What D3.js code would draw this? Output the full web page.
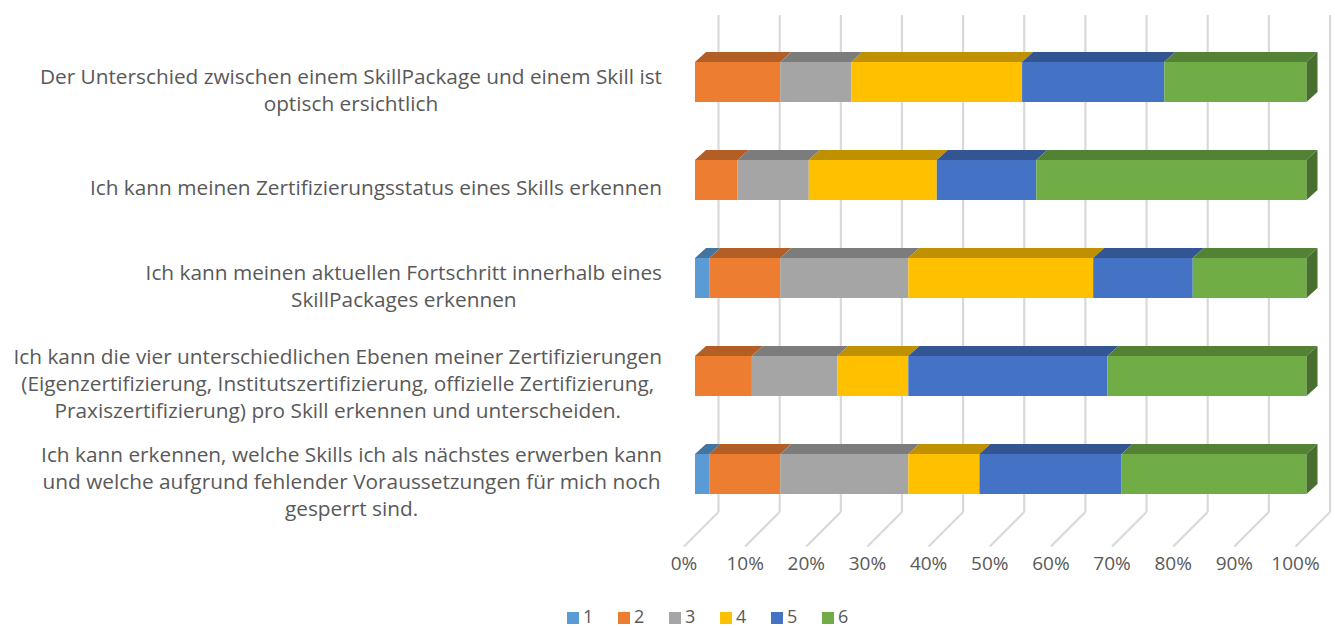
<!DOCTYPE html>
<html><head><meta charset="utf-8">
<script src="https://cdn.jsdelivr.net/npm/d3@7"></script>
<style>html,body{margin:0;padding:0;background:#fff;} svg{display:block;font-family:"Open Sans",sans-serif;}</style>
</head><body>
<svg id="chart" width="1335" height="628"></svg>
<script>
// ---- data ----
const categories = [
  ["Der Unterschied zwischen einem SkillPackage und einem Skill ist", "optisch ersichtlich"],
  ["Ich kann meinen Zertifizierungsstatus eines Skills erkennen"],
  ["Ich kann meinen aktuellen Fortschritt innerhalb eines", "SkillPackages erkennen"],
  ["Ich kann die vier unterschiedlichen Ebenen meiner Zertifizierungen", "(Eigenzertifizierung, Institutszertifizierung, offizielle Zertifizierung,", "Praxiszertifizierung) pro Skill erkennen und unterscheiden."],
  ["Ich kann erkennen, welche Skills ich als nächstes erwerben kann", "und welche aufgrund fehlender Voraussetzungen für mich noch", "gesperrt sind."]
];
const seriesNames = ["1", "2", "3", "4", "5", "6"];
const s1 = [0, 0, 1, 0, 1];
const s2 = [6, 3, 5, 4, 5];
const s3 = [5, 5, 9, 6, 9];
const s4 = [12, 9, 13, 5, 5];
const s5 = [10, 7, 7, 14, 10];
const s6 = [10, 19, 8, 14, 13];
const seriesValues = [s1, s2, s3, s4, s5, s6];
const tickValues = [0, 0.1, 0.2, 0.3, 0.4, 0.5, 0.6, 0.7, 0.8, 0.9, 1.0];
const colors = ["#5b9bd5", "#ed7d31", "#a5a5a5", "#ffc000", "#4472c4", "#70ad47"];

// ---- layout ----
const svg = d3.select("#chart");
const catIdx = categories.map((c, i) => i);
const x = d3.scaleLinear().domain([0, 1]).range([695, 1306.5]);
const y = d3.scaleBand().domain(catIdx).range([33, 523]).paddingInner(0.592).paddingOuter(0.296);
const barDepth = 11;     // depth of bars (oblique offset)
const wallDepth = 23.5;  // back wall offset from bar front
const floorFront = -11;  // floor front offset from bar front
const floorY = 512;      // back-wall bottom y
const wallTop = 15;
const textColor = "#595959";

function shade(c, k) {
  const r = d3.rgb(c);
  return d3.rgb(r.r * k, r.g * k, r.b * k).formatHex();
}

// stacked shares
const rows = catIdx.map(i => {
  const vals = seriesValues.map(s => s[i]);
  const total = d3.sum(vals);
  let acc = 0;
  return vals.map((v, j) => {
    const seg = {cat: i, s: j, x0: acc / total, x1: (acc + v) / total, v};
    acc += v;
    return seg;
  });
});

// ---- gridlines (back wall + floor) ----
const grid = svg.append("g");
tickValues.forEach(t => {
  const xb = x(t) + wallDepth;
  grid.append("line").attr("x1", xb).attr("x2", xb).attr("y1", wallTop).attr("y2", floorY)
    .attr("stroke", "#d9d9d9").attr("stroke-width", 2.2);
  const d = wallDepth - floorFront;
  grid.append("line").attr("x1", xb).attr("y1", floorY).attr("x2", xb - d).attr("y2", floorY + d)
    .attr("stroke", "#d9d9d9").attr("stroke-width", 2.2);
});

// ---- bars ----
const bars = svg.append("g");
rows.forEach((segs, i) => {
  const yt = y(i), h = y.bandwidth();
  const g = bars.append("g");
  const live = segs.filter(s => s.v > 0);
  // top faces
  live.forEach(s => {
    const a = x(s.x0), b = x(s.x1);
    g.append("path")
      .attr("d", `M${a},${yt}L${b},${yt}L${b + barDepth},${yt - barDepth + 1}L${a + barDepth},${yt - barDepth + 1}Z`)
      .attr("fill", shade(colors[s.s], 0.75));
  });
  // front faces
  live.forEach(s => {
    g.append("rect").attr("x", x(s.x0)).attr("y", yt)
      .attr("width", x(s.x1) - x(s.x0)).attr("height", h)
      .attr("fill", colors[s.s]);
  });
  // right side face of last segment
  const last = live[live.length - 1];
  const b = x(last.x1);
  g.append("path")
    .attr("d", `M${b},${yt}L${b + barDepth},${yt - barDepth + 1}L${b + barDepth},${yt + h - barDepth + 1}L${b},${yt + h}Z`)
    .attr("fill", shade(colors[last.s], 0.64));
});

// ---- category labels ----
const lab = svg.append("g").attr("fill", textColor).attr("font-size", 20.8);
const lineH = 27;
categories.forEach((lines, i) => {
  const cy = y(i) + y.bandwidth() / 2 + 8;
  const t = lab.append("text").attr("text-anchor", "middle");
  const n = lines.length;
  const tspans = lines.map((ln, k) => t.append("tspan").text(ln)
    .attr("y", cy + (k - (n - 1) / 2) * lineH).attr("dy", "0.35em"));
  const maxW = d3.max(tspans, ts => ts.node().getComputedTextLength());
  const cx = 662 - maxW / 2;
  tspans.forEach(ts => ts.attr("x", cx));
});

// ---- value axis labels ----
const ax = svg.append("g").attr("fill", textColor).attr("font-size", 19).attr("text-anchor", "middle");
tickValues.forEach(t => {
  ax.append("text").attr("x", x(t) + floorFront).attr("y", 563).attr("dy", "0.35em")
    .text(d3.format(".0%")(t));
});

// ---- legend ----
const leg = svg.append("g").attr("font-size", 18).attr("fill", textColor);
seriesNames.forEach((nm, j) => {
  const lx = 567 + j * 51;
  leg.append("rect").attr("x", lx).attr("y", 612).attr("width", 12).attr("height", 12).attr("fill", colors[j]);
  leg.append("text").attr("x", lx + 16).attr("y", 617).attr("dy", "0.35em").text(nm);
});
</script>
</body></html>
